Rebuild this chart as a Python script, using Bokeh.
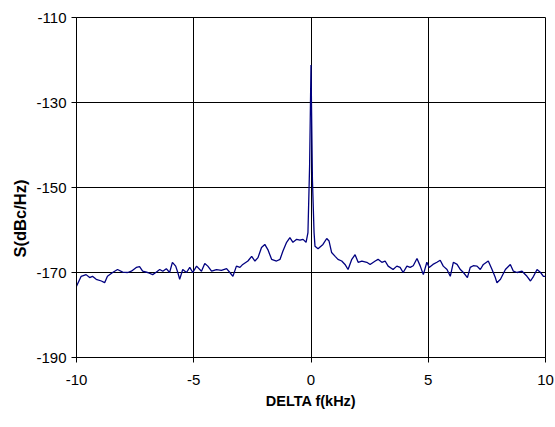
from bokeh.plotting import figure
from bokeh.models import FixedTicker, Title
from bokeh.embed import file_html
from bokeh.resources import INLINE

# frequency offset (kHz)
freq = [-10.0, -9.80, -9.59, -9.44, -9.32, -9.16, -8.94, -8.80, -8.68, -8.46,
        -8.25, -8.03, -7.82, -7.66, -7.45, -7.31, -7.18, -6.97, -6.75, -6.59,
        -6.45, -6.32, -6.17, -6.03, -5.91, -5.77, -5.68, -5.60, -5.47, -5.31,
        -5.17, -5.04, -4.88, -4.67, -4.53, -4.40, -4.24, -4.03, -3.82, -3.60,
        -3.46, -3.33, -3.18, -3.03, -2.91, -2.69, -2.53, -2.39, -2.26, -2.11,
        -1.97, -1.84, -1.68, -1.47, -1.32, -1.20, -1.04, -0.90, -0.77, -0.61,
        -0.47, -0.34, -0.21, -0.13, -0.06, 0.0, 0.06, 0.13, 0.17, 0.30,
        0.51, 0.67, 0.77, 0.88, 1.03, 1.15, 1.31, 1.45, 1.58, 1.74,
        1.88, 2.01, 2.17, 2.38, 2.52, 2.74, 2.86, 3.02, 3.16, 3.29,
        3.50, 3.66, 3.80, 3.93, 4.09, 4.23, 4.36, 4.52, 4.66, 4.79,
        4.94, 5.04, 5.20, 5.37, 5.51, 5.64, 5.80, 5.94, 6.07, 6.23,
        6.37, 6.50, 6.67, 6.79, 6.92, 7.08, 7.22, 7.35, 7.56, 7.72,
        7.86, 7.93, 8.08, 8.29, 8.50, 8.63, 8.79, 9.00, 9.21, 9.36,
        9.49, 9.64, 9.79, 9.91, 10.0]

# phase noise S (dBc/Hz)
noise = [-173.2, -170.9, -170.5, -171.2, -170.9, -171.6, -172.0, -172.4, -170.9, -170.0,
         -169.3, -169.9, -170.0, -169.7, -168.8, -168.6, -169.7, -170.0, -170.5, -169.9,
         -169.3, -169.7, -169.1, -170.0, -167.6, -168.5, -170.0, -171.6, -169.3, -170.0,
         -168.8, -170.0, -168.5, -169.7, -167.9, -168.5, -169.7, -169.3, -169.5, -169.1,
         -170.0, -170.9, -168.5, -168.8, -168.1, -167.3, -166.2, -167.3, -166.5, -164.1,
         -163.4, -164.6, -166.9, -167.3, -166.9, -165.0, -162.9, -161.8, -162.9, -162.2,
         -162.4, -162.2, -162.9, -160.6, -145.0, -121.2, -148.0, -160.6, -163.8, -164.4,
         -163.4, -162.0, -162.6, -165.3, -166.2, -166.9, -167.3, -168.1, -169.3, -166.9,
         -165.8, -167.6, -167.3, -167.6, -168.1, -167.3, -166.9, -167.6, -167.3, -168.5,
         -169.3, -168.5, -168.8, -170.0, -168.5, -168.8, -168.4, -166.7, -168.5, -170.5,
         -167.6, -168.8, -168.1, -167.6, -167.1, -168.5, -169.3, -170.9, -167.6, -168.1,
         -169.3, -170.0, -171.2, -168.8, -168.4, -168.5, -169.3, -168.1, -167.3, -169.3,
         -171.2, -172.4, -171.6, -169.3, -168.1, -169.7, -170.0, -169.7, -170.9, -172.0,
         -170.9, -169.3, -170.0, -170.9, -170.9]

x_ticks = [-10, -5, 0, 5, 10]
y_ticks = [-190, -170, -150, -130, -110]
x_tick_labels = {t: str(t) for t in x_ticks}
y_tick_labels = {t: str(t) for t in y_ticks}

FONT = "Liberation Sans"

p = figure(width=555, height=427, x_range=(-10, 10), y_range=(-190, -110),
           output_backend="svg", toolbar_location=None,
           min_border_left=76, min_border_right=10, min_border_top=17,
           min_border_bottom=70)

p.background_fill_color = "white"
p.border_fill_color = "white"
p.outline_line_color = "black"
p.outline_line_width = 1

p.line(freq, noise, line_color="#000080", line_width=1.3)

for ax in (p.xaxis[0], p.yaxis[0]):
    ax.axis_line_color = "black"
    ax.major_tick_line_color = "black"
    ax.major_tick_in = 0
    ax.major_tick_out = 5
    ax.minor_tick_line_color = None
    ax.major_label_text_font = FONT
    ax.major_label_text_font_size = "15px"
    ax.major_label_text_color = "black"

p.xaxis.ticker = FixedTicker(ticks=x_ticks)
p.yaxis.ticker = FixedTicker(ticks=y_ticks)
p.xaxis.major_label_overrides = x_tick_labels
p.yaxis.major_label_overrides = y_tick_labels
p.xaxis.major_label_standoff = 12
p.yaxis.major_label_standoff = 5

p.xaxis.axis_label = "DELTA f(kHz)"
p.xaxis.axis_label_text_font = FONT
p.xaxis.axis_label_text_font_style = "bold"
p.xaxis.axis_label_text_font_size = "14.5px"
p.xaxis.axis_label_text_color = "black"
p.xaxis.axis_label_standoff = 5

p.xgrid.grid_line_color = "black"
p.ygrid.grid_line_color = "black"
p.xgrid.grid_line_alpha = 1
p.ygrid.grid_line_alpha = 1

ytitle = Title(text="S(dBc/Hz)", align="left", offset=100,
               text_font=FONT, text_font_style="bold", text_font_size="16.5px",
               text_color="black")
p.add_layout(ytitle, "left")

open("out.html", "w").write(file_html(p, INLINE))
